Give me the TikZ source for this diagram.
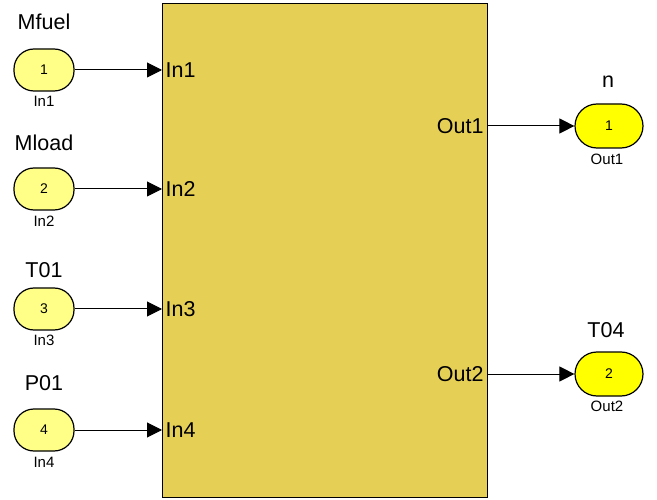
\documentclass[tikz,border=0pt]{standalone}
\usepackage{fontspec}
\setmainfont{Liberation Sans}
\usetikzlibrary{arrows.meta}
\definecolor{blockfill}{HTML}{E6CF55}
\definecolor{infill}{HTML}{FFFF88}
\definecolor{outfill}{HTML}{FFFF00}

\begin{document}
\begin{tikzpicture}[x=1pt, y=-1pt, inport/.style={draw, rectangle, rounded corners=20pt, minimum width=60pt, minimum height=42pt, line width=1.2pt, fill=infill, font=\fontsize{14}{14}\selectfont}, outport/.style={inport, minimum width=68pt, minimum height=44pt, rounded corners=22pt, fill=outfill}, big/.style={font=\fontsize{21.5}{21.5}\selectfont, inner sep=1.5pt}, small/.style={font=\fontsize{15}{15}\selectfont, inner sep=0pt}, n/.style={-{Triangle[length=15pt, width=15pt]}, line width=1pt}]
        \useasboundingbox (0,0) rectangle (657,500);
        % block
        \node[draw, line width=1.2pt, fill=blockfill, minimum width=325pt, minimum height=494pt, anchor=north west] (sub) at (162,3) {};
        % block ports
        \node[big, inner xsep=3.5pt, anchor=west] (bin1) at (sub.west |- 0,70) {In1};
        \node[big, inner xsep=3.5pt, anchor=west] (bin2) at (sub.west |- 0,189) {In2};
        \node[big, inner xsep=3.5pt, anchor=west] (bin3) at (sub.west |- 0,309) {In3};
        \node[big, inner xsep=3.5pt, anchor=west] (bin4) at (sub.west |- 0,430) {In4};
        \node[big, inner xsep=4.5pt, anchor=east] (bout1) at (sub.east |- 0,126) {Out1};
        \node[big, inner xsep=4.5pt, anchor=east] (bout2) at (sub.east |- 0,374) {Out2};
        % inports
        \node[inport] (in1) at (44,70) {1};
        \node[inport] (in2) at (44,189) {2};
        \node[inport] (in3) at (44,309) {3};
        \node[inport] (in4) at (44,430) {4};
        \node[big] (mfuel) at (44,22) {Mfuel};
        \node[big] (mload) at (44,143) {Mload};
        \node[big] (t01) at (44,270) {T01};
        \node[big] (p01) at (44,383) {P01};
        \node[small] (lin1) at (44,101) {In1};
        \node[small] (lin2) at (44,221) {In2};
        \node[small] (lin3) at (44,340) {In3};
        \node[small] (lin4) at (44,462) {In4};
        % outports
        \node[outport] (out1) at (609,126) {1};
        \node[outport] (out2) at (609,374) {2};
        \node[big] (nn) at (608,82) {n};
        \node[big] (t04) at (606,330) {T04};
        \node[small] (lout1) at (607,159) {Out1};
        \node[small] (lout2) at (607,406) {Out2};
        % edges
        \draw[n] (in1) -- (bin1.west);
        \draw[n] (in2) -- (bin2.west);
        \draw[n] (in3) -- (bin3.west);
        \draw[n] (in4) -- (bin4.west);
        \draw[n] (bout1.east) -- (out1);
        \draw[n] (bout2.east) -- (out2);
    \end{tikzpicture}
\end{document}
